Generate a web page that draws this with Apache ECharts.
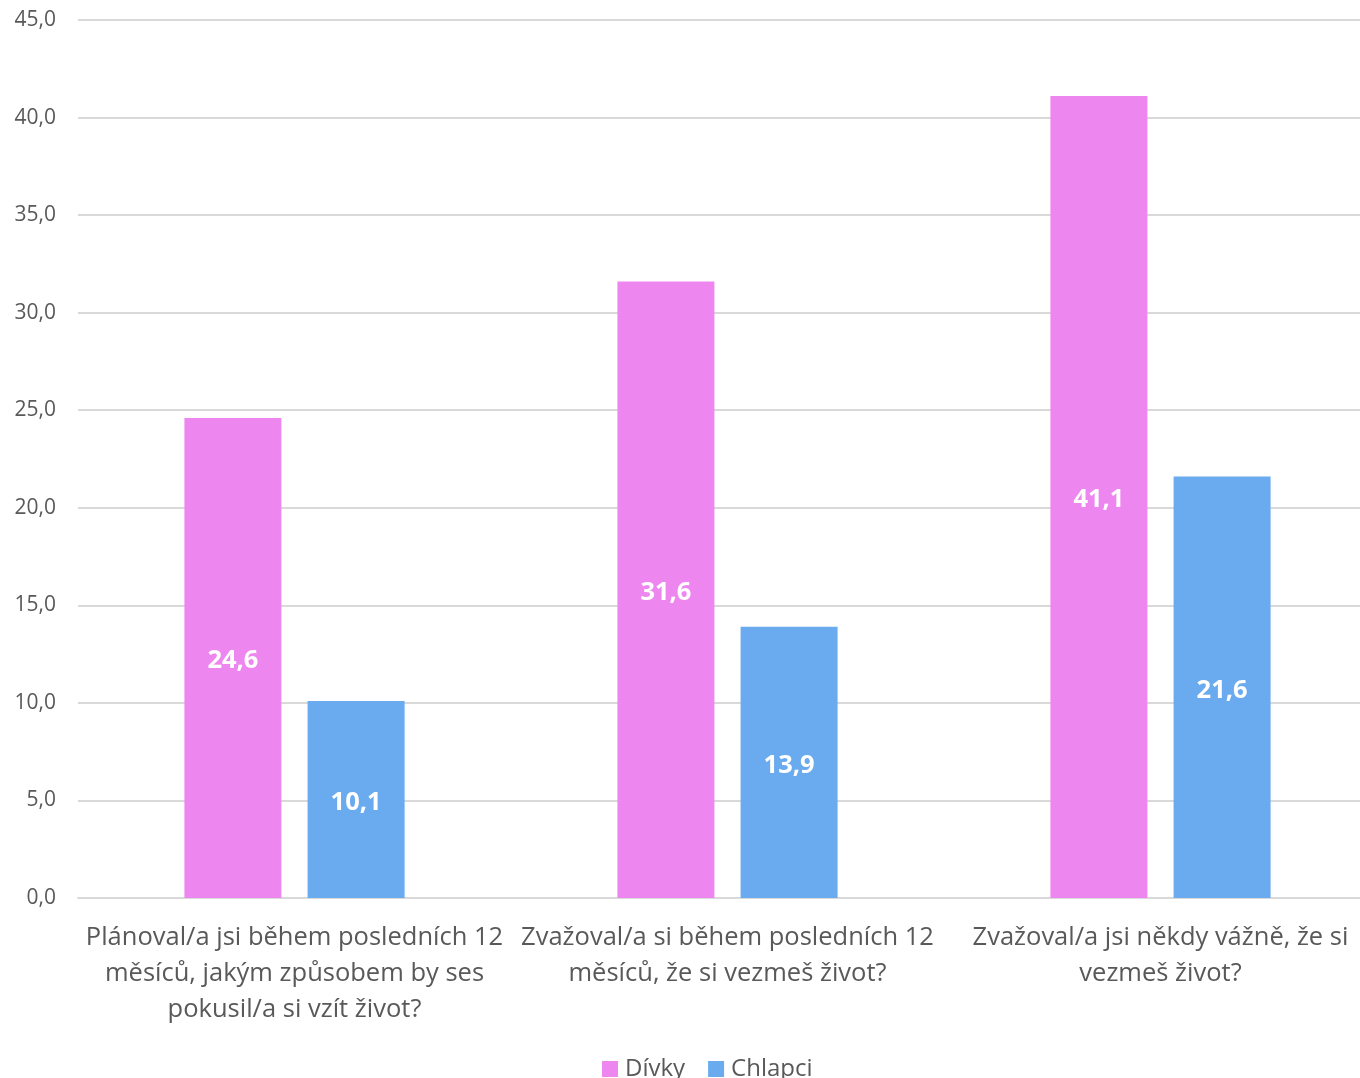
<!DOCTYPE html>
<html><head><meta charset="utf-8">
<script src="https://cdn.jsdelivr.net/npm/echarts@6/dist/echarts.min.js"></script>
<style>html,body{margin:0;padding:0;background:#fff}#c{width:1360px;height:1078px}</style>
</head><body><div id="c"></div>
<script>
const categories = [
  "Plánoval/a jsi během posledních 12\nměsíců, jakým způsobem by ses\npokusil/a si vzít život?",
  "Zvažoval/a si během posledních 12\nměsíců, že si vezmeš život?",
  "Zvažoval/a jsi někdy vážně, že si\nvezmeš život?"
];
const divky = [24.6, 31.6, 41.1];
const chlapci = [10.1, 13.9, 21.6];
const seriesNames = ["Dívky", "Chlapci"];
const FONT = "'Open Sans', 'Noto Sans', sans-serif";
const fmt = v => v.toFixed(1).replace('.', ',');
const chart = echarts.init(document.getElementById('c'), null, {renderer: 'canvas'});
const label = {
  show: true, position: 'inside', color: '#fff', fontWeight: 'bold',
  fontFamily: FONT, fontSize: 25.5, offset: [0, 3], formatter: p => fmt(p.value)
};
chart.setOption({
  animation: false,
  grid: {left: 78, right: -17, top: 20, bottom: 180, containLabel: false, outerBoundsMode: 'none'},
  legend: {
    left: 597, top: 1052, itemWidth: 16, itemHeight: 16, itemGap: 23, icon: 'rect',
    textStyle: {fontFamily: FONT, fontSize: 24, color: '#595959', padding: [0, 0, 0, 2]},
    data: seriesNames
  },
  xAxis: {
    type: 'category', data: categories,
    axisTick: {show: false},
    axisLine: {lineStyle: {color: '#d9d9d9', width: 2}},
    axisLabel: {fontFamily: FONT, fontSize: 25.5, color: '#595959', lineHeight: 36, margin: 22, interval: 0}
  },
  yAxis: {
    type: 'value', min: 0, max: 45, interval: 5,
    axisLine: {show: false}, axisTick: {show: false},
    splitLine: {lineStyle: {color: '#d9d9d9', width: 2}},
    axisLabel: {fontFamily: FONT, fontSize: 21, color: '#595959', margin: 22, formatter: v => fmt(v)}
  },
  series: [
    {name: seriesNames[0], type: 'bar', data: divky, barWidth: 97, barGap: '27%', itemStyle: {color: '#EE86F0'}, label},
    {name: seriesNames[1], type: 'bar', data: chlapci, barWidth: 97, itemStyle: {color: '#6AAAEE'}, label}
  ]
});
</script></body></html>
